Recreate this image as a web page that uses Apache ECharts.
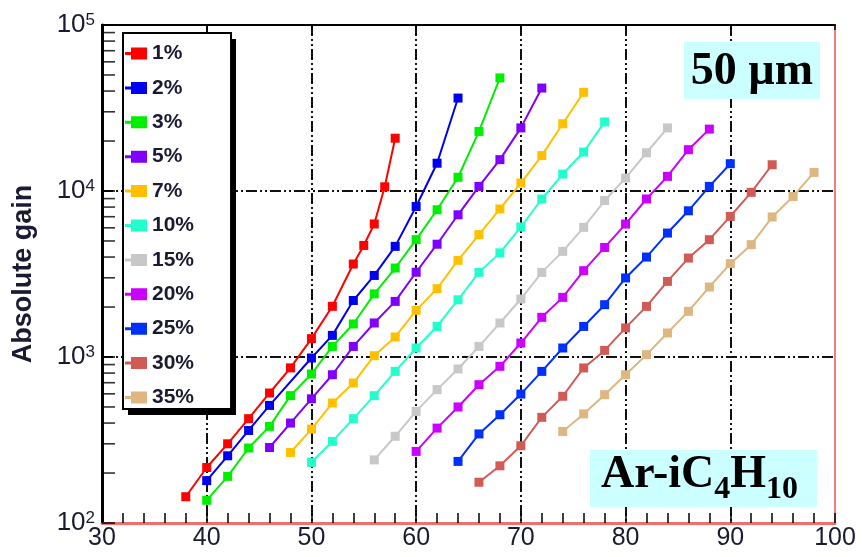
<!DOCTYPE html>
<html>
<head>
<meta charset="utf-8">
<script src="https://cdn.jsdelivr.net/npm/echarts@6/dist/echarts.min.js"></script>
<style>
  html, body { margin: 0; padding: 0; background: #fff; }
  #chart { width: 863px; height: 557px; }
</style>
</head>
<body>
<div id="chart"></div>
<script>
// iC4H10 concentration of each gas mixture
const mixtures = ['1%', '2%', '3%', '5%', '7%', '10%', '15%', '20%', '25%', '30%', '35%'];

// Mesh voltage steps (V) measured for each mixture
const volts1  = [38, 40, 42, 44, 46, 48, 50, 52, 54, 55, 56, 57, 58];
const volts2  = [40, 42, 44, 46, 50, 52, 54, 56, 58, 60, 62, 64];
const volts3  = [40, 42, 44, 46, 48, 50, 52, 54, 56, 58, 60, 62, 64, 66, 68];
const volts5  = [46, 48, 50, 52, 54, 56, 58, 60, 62, 64, 66, 68, 70, 72];
const volts7  = [48, 50, 52, 54, 56, 58, 60, 62, 64, 66, 68, 70, 72, 74, 76];
const volts10 = [50, 52, 54, 56, 58, 60, 62, 64, 66, 68, 70, 72, 74, 76, 78];
const volts15 = [56, 58, 60, 62, 64, 66, 68, 70, 72, 74, 76, 78, 80, 82, 84];
const volts20 = [60, 62, 64, 66, 68, 70, 72, 74, 76, 78, 80, 82, 84, 86, 88];
const volts25 = [64, 66, 68, 70, 72, 74, 76, 78, 80, 82, 84, 86, 88, 90];
const volts30 = [66, 68, 70, 72, 74, 76, 78, 80, 82, 84, 86, 88, 90, 92, 94];
const volts35 = [74, 76, 78, 80, 82, 84, 86, 88, 90, 92, 94, 96, 98];

// Absolute gain at each voltage step
const gain1  = [144, 216, 300, 425, 607, 860, 1290, 2020, 3630, 4700, 6330, 10600, 20800];
const gain2  = [180, 254, 361, 511, 986, 1350, 2190, 3100, 4640, 8070, 14700, 36300];
const gain3  = [137, 191, 283, 382, 585, 790, 1158, 1581, 2400, 3436, 5090, 7710, 12100, 22850, 48000];
const gain5  = [285, 400, 560, 782, 1158, 1603, 2162, 3240, 4780, 7190, 10660, 15450, 24000, 41700];
const gain7  = [266, 368, 528, 697, 1018, 1320, 1910, 2580, 3820, 5460, 7800, 11170, 16340, 25400, 39300];
const gain10 = [232, 310, 425, 585, 819, 1133, 1528, 2213, 3235, 4240, 6070, 8950, 12650, 17170, 26070];
const gain15 = [240, 333, 470, 636, 847, 1158, 1603, 2235, 3235, 4330, 6040, 8760, 11970, 17000, 24000];
const gain20 = [270, 373, 500, 681, 879, 1214, 1734, 2287, 3311, 4570, 6320, 8950, 12250, 17740, 23600];
const gain25 = [235, 344, 449, 598, 819, 1133, 1528, 2066, 2994, 4000, 5580, 7600, 10660, 14600];
const gain30 = [176, 221, 292, 433, 580, 859, 1096, 1497, 2018, 2854, 3945, 5090, 7030, 9820, 14390];
const gain35 = [356, 454, 593, 782, 1033, 1395, 1884, 2640, 3650, 4750, 6970, 9270, 12940];

// Axis ranges
const voltTicks = [30, 40, 50, 60, 70, 80, 90, 100];
const gainDecades = [100, 1000, 10000, 100000];

// Minor log ticks: 2..9 times each decade inside the gain range
const gainMinorTicks = [];
for (let d = 0; d < gainDecades.length - 1; d++) {
  for (let m = 2; m <= 9; m++) gainMinorTicks.push(m * gainDecades[d]);
}

const voltSets = [volts1, volts2, volts3, volts5, volts7, volts10, volts15, volts20, volts25, volts30, volts35];
const gainSets = [gain1, gain2, gain3, gain5, gain7, gain10, gain15, gain20, gain25, gain30, gain35];
const colors = ['#ff0000', '#0000f0', '#00ee00', '#8000ff', '#ffc000', '#22ffcc',
                '#c8c8c8', '#cc00ff', '#0030ff', '#d25a55', '#ddb680'];

const textColor = '#1a1a30';
const sansFont = 'Liberation Sans, Arial, sans-serif';
const serifFont = 'Liberation Serif, Times New Roman, serif';
const gridDash = [11, 3, 2, 3, 2, 3];

// Legend marker: short line stub followed by a block
const legendIcon = 'path://M0,4.5L6,4.5L6,0L22,0L22,12L6,12L6,7.5L0,7.5Z';

const series = mixtures.map((name, i) => ({
  name: name,
  type: 'line',
  data: voltSets[i].map((v, j) => [v, gainSets[i][j]]),
  symbol: 'rect',
  symbolSize: 9,
  color: colors[i],
  lineStyle: { width: 2, color: colors[i] },
  itemStyle: { color: colors[i] },
  emphasis: { disabled: true },
  z: 3
}));

// Inward minor ticks along the left (log) axis
series.push({
  name: 'minorTicks',
  type: 'scatter',
  data: gainMinorTicks.map(v => [voltTicks[0], v]),
  symbol: 'rect',
  symbolSize: [13, 1.6],
  symbolOffset: [6.5, 0],
  itemStyle: { color: '#000' },
  silent: true,
  clip: false,
  z: 4
});

const chart = echarts.init(document.getElementById('chart'), null, { renderer: 'canvas' });

chart.setOption({
  animation: false,
  grid: { left: 102, right: 28, top: 25, bottom: 34, containLabel: false },
  legend: {
    orient: 'vertical',
    left: 123,
    top: 33,
    padding: [10, 37, 1, 2],
    itemGap: 13.4,
    itemWidth: 22,
    itemHeight: 12,
    icon: legendIcon,
    backgroundColor: '#ffffff',
    borderColor: '#000000',
    borderWidth: 2,
    textStyle: { fontFamily: sansFont, fontWeight: 'bold', fontSize: 21, color: textColor },
    data: mixtures,
    selectedMode: false,
    z: 10
  },
  xAxis: [{
    type: 'value',
    min: voltTicks[0],
    max: voltTicks[voltTicks.length - 1],
    interval: 10,
    position: 'bottom',
    axisLine: { show: true, onZero: false, lineStyle: { color: '#f07070', width: 3 } },
    axisTick: { show: true, inside: true, length: 10, lineStyle: { color: '#000', width: 1.5 } },
    minorTick: { show: true, splitNumber: 5, length: 10, lineStyle: { color: '#000', width: 1.5 } },
    splitLine: { show: true, lineStyle: { color: '#111', width: 2, type: gridDash } },
    axisLabel: { fontFamily: sansFont, fontSize: 25, color: textColor, margin: 3 }
  }, {
    type: 'value',
    min: voltTicks[0],
    max: voltTicks[voltTicks.length - 1],
    interval: 10,
    position: 'top',
    axisLine: { show: true, onZero: false, lineStyle: { color: '#000', width: 2 } },
    axisTick: { show: true, inside: true, length: 5, lineStyle: { color: '#000', width: 1.5 } },
    splitLine: { show: false },
    axisLabel: { show: false }
  }],
  yAxis: [{
    type: 'log',
    logBase: 10,
    min: gainDecades[0],
    max: gainDecades[gainDecades.length - 1],
    position: 'left',
    name: 'Absolute gain',
    nameLocation: 'middle',
    nameGap: 65,
    nameTextStyle: { fontFamily: sansFont, fontWeight: 'bold', fontSize: 27, color: textColor },
    axisLine: { show: true, onZero: false, lineStyle: { color: '#000', width: 3 } },
    axisTick: { show: true, inside: true, length: 13, lineStyle: { color: '#000', width: 1.5 } },
    splitLine: { show: true, lineStyle: { color: '#111', width: 2, type: gridDash } },
    axisLabel: {
      margin: 7,
      formatter: function (v) {
        return '{b|10}{s|' + Math.round(Math.log10(v)) + '}';
      },
      rich: {
        b: { fontFamily: sansFont, fontSize: 26, lineHeight: 26, color: textColor, verticalAlign: 'bottom' },
        s: { fontFamily: sansFont, fontSize: 17, lineHeight: 17, color: textColor, verticalAlign: 'top', padding: [0, 0, 12, 0] }
      }
    }
  }, {
    type: 'log',
    logBase: 10,
    min: gainDecades[0],
    max: gainDecades[gainDecades.length - 1],
    position: 'right',
    axisLine: { show: true, onZero: false, lineStyle: { color: '#f08080', width: 2 } },
    axisTick: { show: false },
    splitLine: { show: false },
    axisLabel: { show: false }
  }],
  graphic: [
    // drop shadow behind the legend box
    { type: 'rect', shape: { x: 128, y: 39, width: 108, height: 376 }, style: { fill: '#000' }, z: 9 },
    { type: 'rect', shape: { x: 684, y: 42, width: 136, height: 57 }, style: { fill: '#ccffff' }, z: 20 },
    {
      type: 'text', x: 752, y: 72, z: 21,
      style: { text: '50 µm', font: 'bold 46px ' + serifFont, fill: '#000', align: 'center', verticalAlign: 'middle' }
    },
    { type: 'rect', shape: { x: 590, y: 450, width: 227, height: 57 }, style: { fill: '#ccffff' }, z: 20 },
    {
      type: 'text', x: 601, y: 452, z: 21,
      style: {
        text: '{a|Ar-iC}{s|4}{a|H}{s|10}',
        align: 'left',
        verticalAlign: 'top',
        rich: {
          a: { fontFamily: serifFont, fontWeight: 'bold', fontSize: 46, lineHeight: 46, fill: '#000', verticalAlign: 'top' },
          s: { fontFamily: serifFont, fontWeight: 'bold', fontSize: 32, lineHeight: 32, fill: '#000', verticalAlign: 'top', padding: [22, 0, 0, 0] }
        }
      }
    }
  ],
  series: series
});
</script>
</body>
</html>
